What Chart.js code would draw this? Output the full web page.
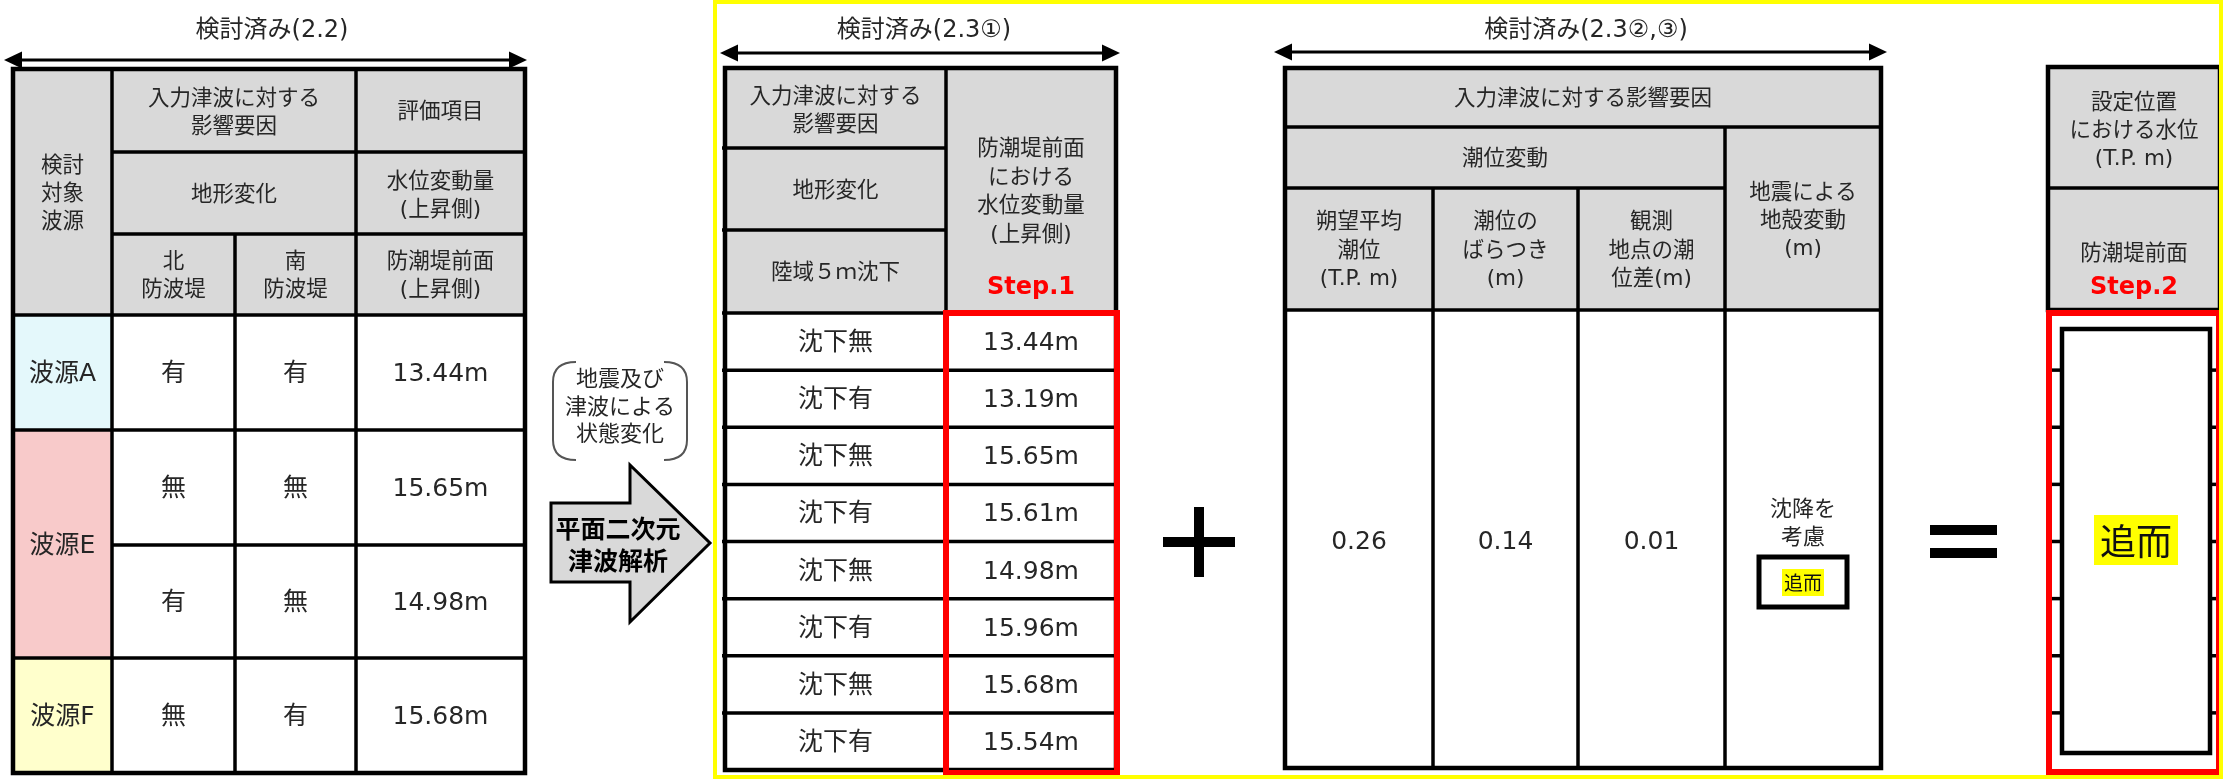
<!DOCTYPE html>
<html><head><meta charset="utf-8">
<script src="https://cdn.jsdelivr.net/npm/chart.js@4/dist/chart.umd.min.js"></script>
<style>html,body{margin:0;padding:0;background:#fff;overflow:hidden}canvas{display:block}</style>
</head><body>
<canvas id="c" width="2223" height="779"></canvas>
<script>
// ===== data =====
const titles = ['検討済み(2.2)', '検討済み(2.3①)', '検討済み(2.3②,③)'];
const sources = ['波源A', '波源E', '波源F'];
const sourceRowSpan = [1, 2, 1];
const northBreakwater = ['有', '無', '有', '無'];
const southBreakwater = ['有', '無', '無', '有'];
const rise22 = [13.44, 15.65, 14.98, 15.68];
const subsidenceCase = ['沈下無', '沈下有', '沈下無', '沈下有', '沈下無', '沈下有', '沈下無', '沈下有'];
const rise23 = [13.44, 13.19, 15.65, 15.61, 14.98, 15.96, 15.68, 15.54];
const tideLabels = ['朔望平均\n潮位\n(T.P. m)', '潮位の\nばらつき\n(m)', '観測\n地点の潮\n位差(m)'];
const tideValues = [0.26, 0.14, 0.01];
const crustLabel = '地震による\n地殻変動\n(m)';
const crustValue = '沈降を\n考慮';
const pendingText = '追而';
const t1Head = ['検討\n対象\n波源', '入力津波に対する\n影響要因', '評価項目', '地形変化', '水位変動量\n(上昇側)', '北\n防波堤', '南\n防波堤', '防潮堤前面\n(上昇側)'];
const t2Head = ['入力津波に対する\n影響要因', '地形変化', '陸域５ｍ沈下', '防潮堤前面\nにおける\n水位変動量\n(上昇側)', 'Step.1'];
const t3Head = ['入力津波に対する影響要因', '潮位変動'];
const t4Head = ['設定位置\nにおける水位\n(T.P. m)', '防潮堤前面', 'Step.2'];
const middleNote = '地震及び\n津波による\n状態変化';
const middleArrow = '平面二次元\n津波解析';

// ===== layout (positions / styles) =====
const L = {
  t1x: [13, 112, 235, 356, 525], t1y: [69, 152, 234, 315, 430, 545, 658, 773],
  t2x: [725, 946, 1116], t2y: [68, 148, 230, 313], t2rowTop: 313, t2rowBottom: 770,
  t3x: [1285, 1433, 1578, 1725, 1881], t3y: [68, 127, 188, 310, 768],
  t4x: [2048, 2220], t4y: [67, 188, 310, 772]
};
const GRAY = '#D9D9D9', INK = '#262626', RED = '#FF0000';
const srcColors = ['#E4F8FB', '#F8CACA', '#FFFFCC'];
const FONT = '"DejaVu Sans","Noto Sans CJK JP",sans-serif';

const tablePlugin = {
  id: 'tables',
  afterDraw(chart) {
    const ctx = chart.ctx;
    const xs = chart.scales.x, ys = chart.scales.y;
    const X = v => xs.getPixelForValue(v), Y = v => ys.getPixelForValue(v);
    const fill = (x0, y0, x1, y1, c) => { ctx.fillStyle = c; ctx.fillRect(X(x0), Y(y0), X(x1) - X(x0), Y(y1) - Y(y0)); };
    const line = (x0, y0, x1, y1, w, c) => { ctx.beginPath(); ctx.moveTo(X(x0), Y(y0)); ctx.lineTo(X(x1), Y(y1)); ctx.lineWidth = w; ctx.strokeStyle = c || '#000'; ctx.lineCap = 'butt'; ctx.stroke(); };
    const rect = (x0, y0, x1, y1, w, c) => { ctx.lineWidth = w; ctx.strokeStyle = c || '#000'; ctx.lineJoin = 'miter'; ctx.strokeRect(X(x0), Y(y0), X(x1) - X(x0), Y(y1) - Y(y0)); };
    const text = (s, cx, cy, size, o = {}) => {
      const lines = String(s).split('\n');
      const lh = o.lh || size * 1.33;
      ctx.font = (o.bold ? 'bold ' : '') + size + 'px ' + (o.font || FONT);
      ctx.fillStyle = o.color || INK; ctx.textAlign = 'center'; ctx.textBaseline = 'middle';
      const y0 = cy - (lines.length - 1) * lh / 2;
      lines.forEach((ln, i) => ctx.fillText(ln, X(cx), Y(y0 + i * lh)));
    };
    const dblArrow = (x0, x1, y) => {
      line(x0 + 14, y, x1 - 14, y, 3);
      ctx.fillStyle = '#000';
      ctx.beginPath(); ctx.moveTo(X(x0), Y(y)); ctx.lineTo(X(x0 + 18), Y(y - 8.5)); ctx.lineTo(X(x0 + 18), Y(y + 8.5)); ctx.closePath(); ctx.fill();
      ctx.beginPath(); ctx.moveTo(X(x1), Y(y)); ctx.lineTo(X(x1 - 18), Y(y - 8.5)); ctx.lineTo(X(x1 - 18), Y(y + 8.5)); ctx.closePath(); ctx.fill();
    };
    const mid = a => (a[0] + a[a.length - 1]) / 2;
    const HS = 21.5, DS = 25;

    ctx.save();
    ctx.fillStyle = '#fff'; ctx.fillRect(0, 0, chart.width, chart.height);

    // ---------- Table 1 ----------
    const ax = L.t1x, ay = L.t1y;
    fill(ax[0], ay[0], ax[4], ay[3], GRAY);
    fill(ax[0], ay[3], ax[4], ay[7], '#fff');
    let r = 3;
    sources.forEach((s, i) => {
      fill(ax[0], ay[r], ax[1], ay[r + sourceRowSpan[i]], srcColors[i]);
      r += sourceRowSpan[i];
    });
    const IW = 3.5, OW = 4.5;
    line(ax[1], ay[1], ax[4], ay[1], IW); line(ax[1], ay[2], ax[4], ay[2], IW);
    line(ax[0], ay[3], ax[4], ay[3], IW); line(ax[0], ay[4], ax[4], ay[4], IW);
    line(ax[1], ay[5], ax[4], ay[5], IW); line(ax[0], ay[6], ax[4], ay[6], IW);
    line(ax[1], ay[0], ax[1], ay[7], IW); line(ax[2], ay[2], ax[2], ay[7], IW); line(ax[3], ay[0], ax[3], ay[7], IW);
    rect(ax[0], ay[0], ax[4], ay[7], OW);
    text(t1Head[0], (ax[0] + ax[1]) / 2, (ay[0] + ay[3]) / 2 + 2, HS, { lh: 28 });
    text(t1Head[1], (ax[1] + ax[3]) / 2, (ay[0] + ay[1]) / 2 + 3, HS, { lh: 28 });
    text(t1Head[2], (ax[3] + ax[4]) / 2, (ay[0] + ay[1]) / 2 + 2, HS);
    text(t1Head[3], (ax[1] + ax[3]) / 2, (ay[1] + ay[2]) / 2 + 2, HS);
    text(t1Head[4], (ax[3] + ax[4]) / 2, (ay[1] + ay[2]) / 2 + 3, HS, { lh: 28 });
    text(t1Head[5], (ax[1] + ax[2]) / 2, (ay[2] + ay[3]) / 2 + 2, HS, { lh: 28 });
    text(t1Head[6], (ax[2] + ax[3]) / 2, (ay[2] + ay[3]) / 2 + 2, HS, { lh: 28 });
    text(t1Head[7], (ax[3] + ax[4]) / 2, (ay[2] + ay[3]) / 2 + 2, HS, { lh: 28 });
    r = 3;
    sources.forEach((s, i) => { text(s, (ax[0] + ax[1]) / 2, (ay[r] + ay[r + sourceRowSpan[i]]) / 2 + 2, DS); r += sourceRowSpan[i]; });
    rise22.forEach((v, i) => {
      const cy = (ay[3 + i] + ay[4 + i]) / 2 + 2;
      text(northBreakwater[i], (ax[1] + ax[2]) / 2, cy, DS);
      text(southBreakwater[i], (ax[2] + ax[3]) / 2, cy, DS);
      text(v.toFixed(2) + 'm', (ax[3] + ax[4]) / 2, cy, DS);
    });
    text(titles[0], 272, 31, 24);
    dblArrow(4, 527, 60);

    // ---------- middle: note + arrow ----------
    ctx.lineWidth = 2; ctx.strokeStyle = '#555';
    ctx.beginPath(); ctx.moveTo(X(576), Y(362)); ctx.quadraticCurveTo(X(553), Y(362), X(553), Y(382)); ctx.lineTo(X(553), Y(440)); ctx.quadraticCurveTo(X(553), Y(460), X(576), Y(460)); ctx.stroke();
    ctx.beginPath(); ctx.moveTo(X(664), Y(362)); ctx.quadraticCurveTo(X(687), Y(362), X(687), Y(382)); ctx.lineTo(X(687), Y(440)); ctx.quadraticCurveTo(X(687), Y(460), X(664), Y(460)); ctx.stroke();
    text(middleNote, 620, 408, 22, { lh: 27.5 });
    ctx.beginPath();
    ctx.moveTo(X(551), Y(503)); ctx.lineTo(X(630), Y(503)); ctx.lineTo(X(630), Y(465)); ctx.lineTo(X(710), Y(543));
    ctx.lineTo(X(630), Y(622)); ctx.lineTo(X(630), Y(582)); ctx.lineTo(X(551), Y(582)); ctx.closePath();
    ctx.fillStyle = GRAY; ctx.fill(); ctx.lineWidth = 3; ctx.strokeStyle = '#000'; ctx.lineJoin = 'miter'; ctx.stroke();
    text(middleArrow, 618, 544, 25, { bold: true, lh: 32, color: '#000', font: '"Noto Sans CJK JP",sans-serif' });

    // ---------- Table 2 ----------
    const bx = L.t2x, by = L.t2y;
    const n2 = rise23.length, rh = (L.t2rowBottom - L.t2rowTop) / n2;
    fill(bx[0], by[0], bx[2], by[3], GRAY);
    fill(bx[0], by[3], bx[2], L.t2rowBottom, '#fff');
    line(bx[0] - 3, by[1], bx[1], by[1], IW); line(bx[0] - 3, by[2], bx[1], by[2], IW);
    for (let i = 0; i < n2; i++) line(bx[0] - 3, L.t2rowTop + i * rh, bx[2], L.t2rowTop + i * rh, IW);
    line(bx[1], by[0], bx[1], L.t2rowBottom, IW);
    rect(bx[0], by[0], bx[2], L.t2rowBottom, OW);
    text(t2Head[0], (bx[0] + bx[1]) / 2, (by[0] + by[1]) / 2 + 3, HS, { lh: 28 });
    text(t2Head[1], (bx[0] + bx[1]) / 2, (by[1] + by[2]) / 2 + 2, HS);
    text(t2Head[2], (bx[0] + bx[1]) / 2, (by[2] + by[3]) / 2 + 2, HS);
    text(t2Head[3], (bx[1] + bx[2]) / 2, 192.5, HS, { lh: 28.5 });
    text(t2Head[4], (bx[1] + bx[2]) / 2, 288, 24, { bold: true, color: RED });
    rise23.forEach((v, i) => {
      const cy = L.t2rowTop + (i + 0.5) * rh + 2;
      text(subsidenceCase[i], (bx[0] + bx[1]) / 2, cy, DS);
      text(v.toFixed(2) + 'm', (bx[1] + bx[2]) / 2, cy, DS);
    });
    rect(bx[1], L.t2rowTop, bx[2] + 1, L.t2rowBottom + 3, 6, RED);
    text(titles[1], 924, 31, 24);
    dblArrow(720, 1120, 53);

    // ---------- plus ----------
    fill(1163, 537, 1235, 547, '#000');
    fill(1194, 507, 1204, 577, '#000');

    // ---------- Table 3 ----------
    const cx = L.t3x, cyy = L.t3y;
    fill(cx[0], cyy[0], cx[4], cyy[3], GRAY);
    fill(cx[0], cyy[3], cx[4], cyy[4], '#fff');
    line(cx[0], cyy[1], cx[4], cyy[1], IW); line(cx[0], cyy[2], cx[3], cyy[2], IW); line(cx[0], cyy[3], cx[4], cyy[3], IW);
    line(cx[1], cyy[2], cx[1], cyy[4], IW); line(cx[2], cyy[2], cx[2], cyy[4], IW); line(cx[3], cyy[1], cx[3], cyy[4], IW);
    rect(cx[0], cyy[0], cx[4], cyy[4], OW);
    text(t3Head[0], mid(cx), (cyy[0] + cyy[1]) / 2 + 2, HS);
    text(t3Head[1], (cx[0] + cx[3]) / 2, (cyy[1] + cyy[2]) / 2 + 2, HS);
    tideLabels.forEach((s, i) => text(s, (cx[i] + cx[i + 1]) / 2, (cyy[2] + cyy[3]) / 2 + 2, HS, { lh: 28.5 }));
    text(crustLabel, (cx[3] + cx[4]) / 2, 221, HS, { lh: 28 });
    const vy = (cyy[3] + cyy[4]) / 2 + 3;
    tideValues.forEach((v, i) => text(v.toFixed(2), (cx[i] + cx[i + 1]) / 2, vy, DS));
    const kx = (cx[3] + cx[4]) / 2;
    text(crustValue, kx, 524, 22, { lh: 28 });
    rect(kx - 44, 557, kx + 44, 607, 5);
    ctx.font = '19px "Noto Sans CJK JP"';
    const sw = ctx.measureText(pendingText).width;
    fill(kx - sw / 2 - 2, 569, kx + sw / 2 + 2, 596, '#FFFF00');
    text(pendingText, kx, 583, 19, { font: '"Noto Sans CJK JP",sans-serif', color: '#111' });
    text(titles[2], 1586, 31, 24);
    dblArrow(1274, 1887, 52);

    // ---------- equals ----------
    fill(1930, 525, 1997, 535, '#000');
    fill(1930, 548, 1997, 558, '#000');

    // ---------- Table 4 ----------
    const dx = L.t4x, dy = L.t4y;
    fill(dx[0], dy[0], dx[1], dy[2], GRAY);
    fill(dx[0], dy[2], dx[1], dy[3], '#fff');
    line(dx[0], dy[1], dx[1], dy[1], IW); line(dx[0], dy[2], dx[1], dy[2], IW);
    rect(dx[0], dy[0], dx[1], dy[2], OW);
    text(t4Head[0], (dx[0] + dx[1]) / 2, 131, HS, { lh: 28 });
    text(t4Head[1], (dx[0] + dx[1]) / 2, 254, HS);
    text(t4Head[2], (dx[0] + dx[1]) / 2, 288, 24, { bold: true, color: RED });
    for (let i = 1; i < n2; i++) {
      const yy = L.t2rowTop + i * rh;
      line(dx[0] + 2, yy, 2062, yy, IW); line(2210, yy, dx[1] - 2, yy, IW);
    }
    rect(2062, 329, 2210, 753, OW);
    rect(dx[0] + 1, 313, dx[1] - 1, 772, 6, RED);
    ctx.font = '36px "Noto Sans CJK JP"';
    const bw = ctx.measureText(pendingText).width;
    const bcx = (2062 + 2210) / 2;
    fill(bcx - bw / 2 - 6, 515, bcx + bw / 2 + 6, 565, '#FFFF00');
    text(pendingText, bcx, 541, 36, { font: '"Noto Sans CJK JP",sans-serif', color: '#111' });

    // ---------- yellow frame ----------
    ctx.lineWidth = 4; ctx.strokeStyle = '#FFFF00';
    ctx.strokeRect(X(715), Y(2), X(2221) - X(715), Y(777) - Y(2));
    ctx.restore();
  }
};

new Chart(document.getElementById('c'), {
  type: 'scatter',
  data: { datasets: [{ data: [], pointRadius: 0 }] },
  options: {
    responsive: false, animation: false, devicePixelRatio: 1,
    layout: { padding: 0 },
    plugins: { legend: { display: false }, tooltip: { enabled: false }, title: { display: false } },
    scales: {
      x: { type: 'linear', min: 0, max: 2223, display: false },
      y: { type: 'linear', min: 0, max: 779, reverse: true, display: false }
    }
  },
  plugins: [tablePlugin]
});
</script>
</body></html>
